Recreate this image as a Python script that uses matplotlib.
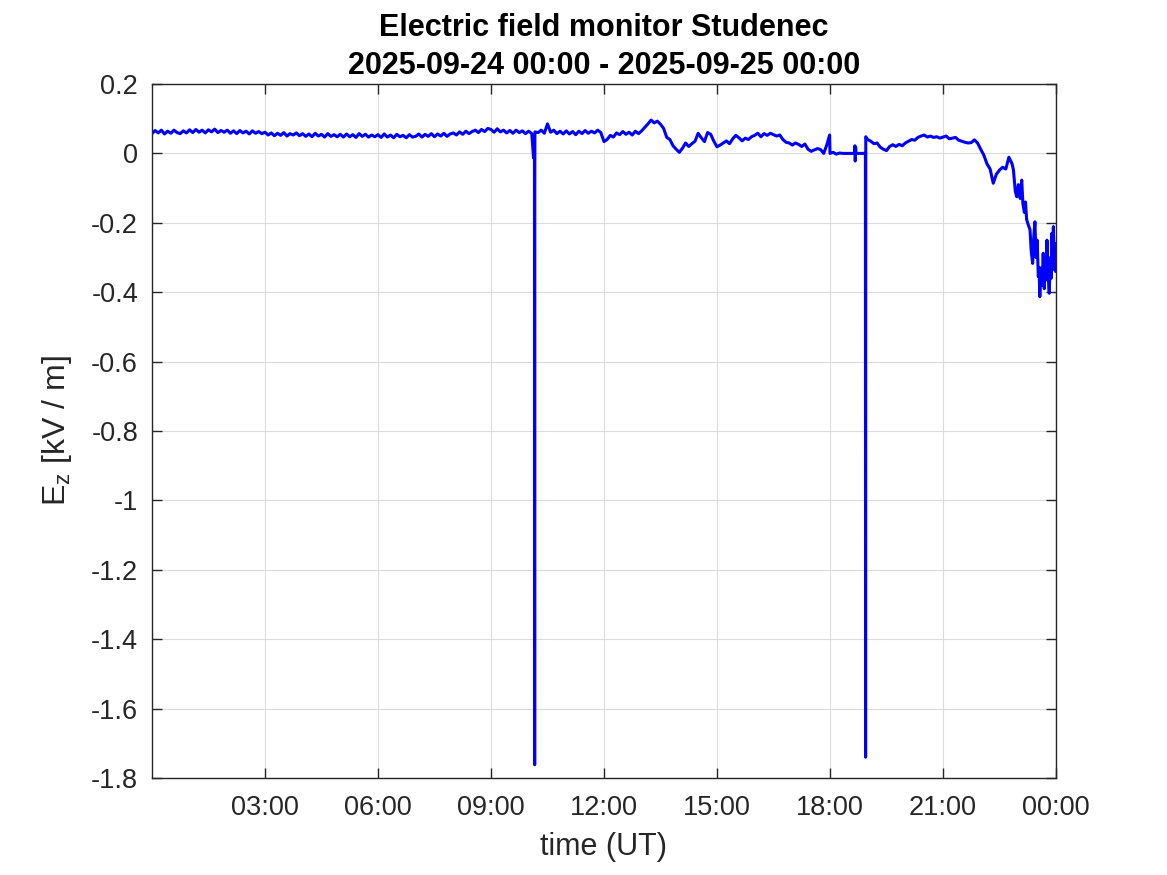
import numpy as np
import matplotlib
import matplotlib.pyplot as plt

matplotlib.use('Agg')

plt.rcParams['font.family'] = ['Liberation Sans', 'DejaVu Sans']

ez_5min = [
    0.057, 0.066, 0.059, 0.067, 0.056, 0.064, 0.058, 0.067, 0.060, 0.057, 0.065, 0.059,  # 00h
    0.068, 0.060, 0.069, 0.061, 0.067, 0.059, 0.068, 0.062, 0.070, 0.060, 0.066, 0.061,  # 01h
    0.067, 0.058, 0.065, 0.057, 0.066, 0.059, 0.064, 0.056, 0.065, 0.058, 0.063, 0.057,  # 02h
    0.061, 0.053, 0.059, 0.051, 0.058, 0.052, 0.060, 0.050, 0.057, 0.053, 0.059, 0.051,  # 03h
    0.057, 0.049, 0.056, 0.048, 0.058, 0.050, 0.055, 0.047, 0.057, 0.049, 0.054, 0.048,  # 04h
    0.055, 0.047, 0.056, 0.048, 0.054, 0.046, 0.057, 0.049, 0.055, 0.047, 0.053, 0.048,  # 05h
    0.054, 0.046, 0.056, 0.047, 0.053, 0.045, 0.055, 0.048, 0.052, 0.045, 0.054, 0.047,  # 06h
    0.049, 0.056, 0.047, 0.055, 0.049, 0.057, 0.048, 0.056, 0.050, 0.058, 0.049, 0.056,  # 07h
    0.059, 0.053, 0.062, 0.055, 0.064, 0.057, 0.063, 0.067, 0.060, 0.069, 0.063, 0.072,  # 08h
    0.069, 0.061, 0.071, 0.062, 0.067, 0.059, 0.066, 0.058, 0.067, 0.060, 0.065, 0.057,  # 09h
    0.064, 0.057, 0.062, 0.060, 0.067, 0.058, 0.085, 0.061, 0.067, 0.057, 0.064, 0.056,  # 10h
    0.065, 0.056, 0.063, 0.054, 0.064, 0.057, 0.066, 0.058, 0.064, 0.059, 0.067, 0.060,  # 11h
    0.034, 0.040, 0.052, 0.047, 0.059, 0.054, 0.063, 0.055, 0.061, 0.053, 0.064, 0.057,  # 12h
    0.065, 0.075, 0.085, 0.096, 0.088, 0.093, 0.084, 0.072, 0.046, 0.040, 0.022, 0.012,  # 13h
    0.003, 0.015, 0.030, 0.020, 0.028, 0.035, 0.058, 0.045, 0.034, 0.060, 0.055, 0.035,  # 14h
    0.019, 0.024, 0.030, 0.036, 0.028, 0.042, 0.052, 0.045, 0.036, 0.044, 0.040, 0.048,  # 15h
    0.052, 0.058, 0.048, 0.057, 0.052, 0.058, 0.054, 0.050, 0.053, 0.040, 0.032, 0.030,  # 16h
    0.024, 0.030, 0.026, 0.020, 0.027, 0.012, 0.006, 0.010, 0.014, 0.011, 0.000, 0.025,  # 17h
    0.000, 0.003, -0.002, 0.001, 0.000, 0.000, 0.000, 0.000, 0.001, 0.000, 0.000, 0.000,  # 18h
    0.040, 0.035, 0.028, 0.030, 0.018, 0.012, 0.008, 0.020, 0.025, 0.020, 0.026, 0.022,  # 19h
    0.030, 0.035, 0.040, 0.038, 0.046, 0.050, 0.053, 0.047, 0.050, 0.046, 0.048, 0.044,  # 20h
    0.047, 0.050, 0.042, 0.044, 0.046, 0.038, 0.035, 0.032, 0.030, 0.031, 0.039, 0.030,  # 21h
    0.012, -0.005, -0.030, -0.045, -0.086, -0.060, -0.048, -0.040, -0.045, -0.011, -0.030,  # 22h
]

# spikes, short glitches and the noisy end of the day (hour UT, kV/m)
event_hours = [10.13, 10.155, 10.16, 10.163,
               17.99,
               18.65, 18.66, 18.67, 18.68, 18.69,
               18.94, 18.945, 18.95,
               22.87, 22.92, 22.96, 23.00, 23.05, 23.09, 23.12, 23.16, 23.19,
               23.22, 23.26, 23.31, 23.34, 23.38, 23.41, 23.44, 23.47, 23.50,
               23.53, 23.55, 23.57, 23.60, 23.63, 23.66, 23.69, 23.71, 23.73,
               23.76, 23.79, 23.82, 23.85, 23.87, 23.89, 23.91, 23.93, 23.96,
               23.98, 24.0]
event_values = [-0.013, -0.013, -1.762, -0.10,
                0.053,
                0.000, 0.022, -0.022, 0.018, 0.000,
                0.000, -1.740, 0.048,
                -0.048, -0.110, -0.125, -0.090, -0.130, -0.077, -0.144, -0.170, -0.140,
                -0.190, -0.205, -0.220, -0.280, -0.317, -0.240, -0.197, -0.300, -0.250,
                -0.355, -0.330, -0.413, -0.330, -0.380, -0.288, -0.390, -0.300, -0.365,
                -0.250, -0.350, -0.403, -0.300, -0.360, -0.230, -0.300, -0.211, -0.336,
                -0.260, -0.340]

tick_hours = [3, 6, 9, 12, 15, 18, 21, 24]
tick_labels = ['03:00', '06:00', '09:00', '12:00', '15:00', '18:00', '21:00', '00:00']
y_ticks = [0.2, 0, -0.2, -0.4, -0.6, -0.8, -1, -1.2, -1.4, -1.6, -1.8]

base_hours = np.arange(len(ez_5min)) / 12.0
hours = np.concatenate([base_hours, event_hours])
values = np.concatenate([ez_5min, event_values])
order = np.argsort(hours, kind='stable')
hours = hours[order]
values = values[order]

fig = plt.figure(figsize=(11.67, 8.75), dpi=100)
ax = fig.add_axes([0.1302, 0.1109, 0.7747, 0.7931])

ax.plot(hours, values, color=(0, 0, 1), linewidth=2.2)

ax.set_xlim(0, 24)
ax.set_ylim(-1.8, 0.2)
ax.set_xticks(tick_hours)
ax.set_xticklabels(tick_labels)
ax.set_yticks(y_ticks)
ax.set_yticklabels(['%g' % v for v in y_ticks])

ax.grid(True, color='#dcdcdc', linewidth=0.8)
ax.set_axisbelow(True)
for s in ax.spines.values():
    s.set_color('#262626')
    s.set_linewidth(1.0)
ax.tick_params(direction='in', length=7, width=1.0, colors='#262626',
               labelsize=19.5, top=True, right=True)
ax.tick_params(axis='x', pad=12)
ax.tick_params(axis='y', pad=10)

ax.set_xlabel('time (UT)', fontsize=22, color='#262626', labelpad=8)
ax.set_ylabel(r'E$_\mathregular{z}$ [kV / m]', fontsize=23, color='#262626', labelpad=12)
ax.set_title('Electric field monitor Studenec\n2025-09-24 00:00 - 2025-09-25 00:00',
             fontsize=22, fontweight='bold', pad=7, linespacing=1.35)

fig.savefig('out.png', dpi=100)
